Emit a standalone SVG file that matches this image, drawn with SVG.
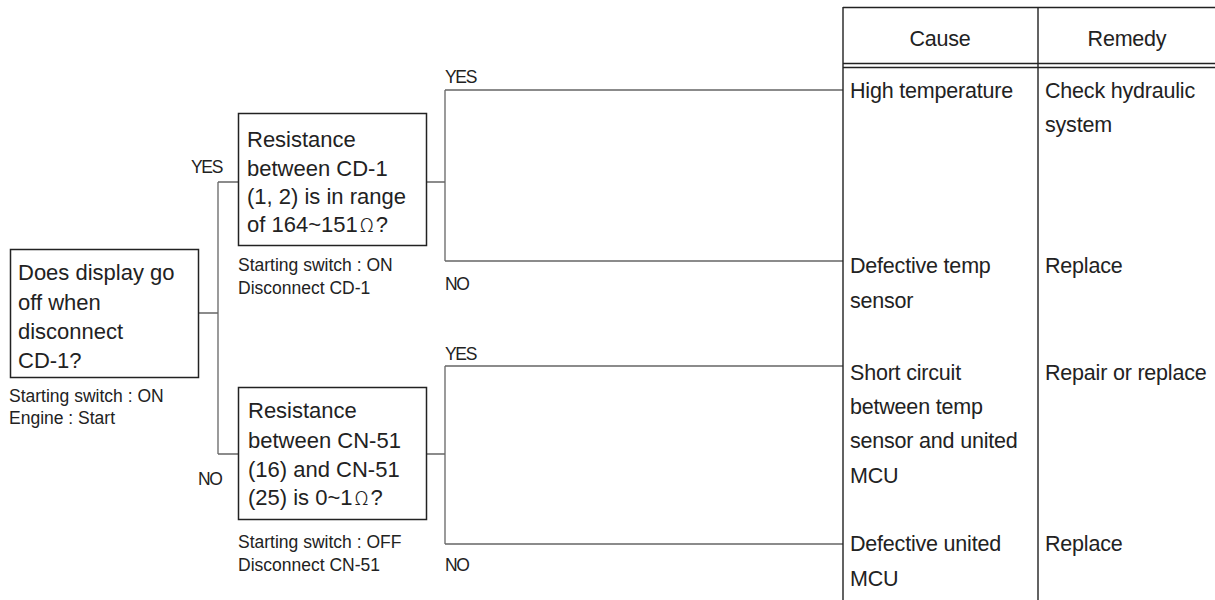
<svg xmlns="http://www.w3.org/2000/svg" width="1215" height="600" viewBox="0 0 1215 600">
<style>
text{font-family:"Liberation Sans",Arial,sans-serif;fill:#222}
.box{fill:#fff;stroke:#222;stroke-width:1.5}
.t{font-size:22px}
.s{font-size:17.5px}
.lbl{font-size:17.5px;letter-spacing:-1.3px}
.tb{font-size:21.5px;letter-spacing:-0.2px}
.conn{fill:none;stroke:#666;stroke-width:1.3}
.grid{stroke:#222;stroke-width:1.4;fill:none}
.om{font-family:"Noto Sans CJK KR","Noto Sans CJK JP",sans-serif;font-weight:300}
</style>
<g id="connectors">
<path class="conn" d="M199 313H218M218 182V454M218 182H238M218 454H238"/>
<path class="conn" d="M426 182H445M445 90V261M445 90H843M445 261H843"/>
<path class="conn" d="M426 454H445M445 366V544M445 366H843M445 544H843"/>
</g>
<g id="labels">
<text class="lbl" x="191" y="173">YES</text>
<text class="lbl" x="198" y="485">NO</text>
<text class="lbl" x="445" y="83">YES</text>
<text class="lbl" x="445" y="290">NO</text>
<text class="lbl" x="445" y="360">YES</text>
<text class="lbl" x="445" y="571">NO</text>
</g>
<g id="node1">
<rect class="box" x="10.5" y="249.5" width="188" height="128"/>
<text class="t" x="18" y="280">Does display go</text>
<text class="t" x="18" y="309.5">off when</text>
<text class="t" x="18" y="339">disconnect</text>
<text class="t" x="18" y="368">CD-1?</text>
<text class="s" x="9" y="402">Starting switch : ON</text>
<text class="s" x="9" y="424">Engine : Start</text>
</g>
<g id="node2">
<rect class="box" x="238.5" y="113.5" width="188" height="132"/>
<text class="t" x="247" y="147">Resistance</text>
<text class="t" x="247" y="175.5">between CD-1</text>
<text class="t" x="247" y="204">(1, 2) is in range</text>
<text class="t" x="247" y="232">of 164~151<tspan class="om" font-size="19" dx="2">Ω</tspan><tspan dx="2">?</tspan></text>
<text class="s" x="238" y="271">Starting switch : ON</text>
<text class="s" x="238" y="294">Disconnect CD-1</text>
</g>
<g id="node3">
<rect class="box" x="238.5" y="387.5" width="188" height="132"/>
<text class="t" x="248" y="418">Resistance</text>
<text class="t" x="248" y="447.5">between CN-51</text>
<text class="t" x="248" y="476.5">(16) and CN-51</text>
<text class="t" x="248" y="505">(25) is 0~1<tspan class="om" font-size="19" dx="2">Ω</tspan><tspan dx="2">?</tspan></text>
<text class="s" x="238" y="548">Starting switch : OFF</text>
<text class="s" x="238" y="571">Disconnect CN-51</text>
</g>
<g id="table">
<path class="grid" d="M843 7.5H1215M843 63.5H1215M843 67.5H1215M843 7V600M1038 7V600"/>
<text class="tb" x="940" y="46" text-anchor="middle">Cause</text>
<text class="tb" x="1127" y="46" text-anchor="middle">Remedy</text>
</g>
<g id="row1">
<text class="tb" x="850" y="98">High temperature</text>
<text class="tb" x="1045" y="98">Check hydraulic</text>
<text class="tb" x="1045" y="132">system</text>
</g>
<g id="row2">
<text class="tb" x="850" y="273">Defective temp</text>
<text class="tb" x="850" y="308">sensor</text>
<text class="tb" x="1045" y="273">Replace</text>
</g>
<g id="row3">
<text class="tb" x="850" y="380">Short circuit</text>
<text class="tb" x="850" y="414">between temp</text>
<text class="tb" x="850" y="448">sensor and united</text>
<text class="tb" x="850" y="483">MCU</text>
<text class="tb" x="1045" y="380">Repair or replace</text>
</g>
<g id="row4">
<text class="tb" x="850" y="551">Defective united</text>
<text class="tb" x="850" y="586">MCU</text>
<text class="tb" x="1045" y="551">Replace</text>
</g>
</svg>
